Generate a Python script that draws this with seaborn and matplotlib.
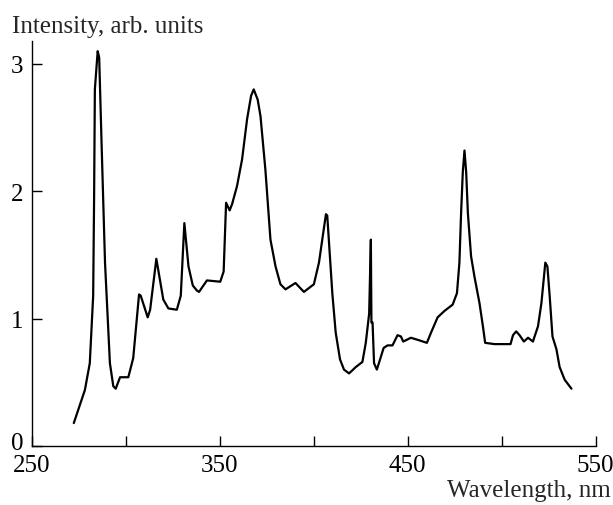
import matplotlib
matplotlib.use('Agg')
import matplotlib.pyplot as plt
from matplotlib.transforms import ScaledTranslation
import seaborn as sns

# spectrum
wavelength = [272.4, 278.3, 280.9, 282.7, 283.2, 283.6, 285.1, 285.9, 287.2, 289.0,
              291.6, 293.4, 294.7, 297.0, 301.4, 304.0, 307.1, 308.0, 311.7, 313.0,
              316.3, 320.0, 322.7, 327.2, 329.3, 331.2, 333.4, 335.7, 337.9, 339.0,
              343.2, 350.3, 352.1, 353.4, 355.3, 356.6, 359.2, 361.9, 364.6, 366.7,
              368.1, 370.2, 371.7, 374.3, 377.0, 379.7, 382.3, 385.0, 390.3, 394.8,
              400.1, 402.8, 406.5, 407.2, 409.9, 411.7, 414.0, 416.1, 418.8, 422.4,
              425.9, 427.7, 429.5, 430.4, 430.7, 431.3, 432.1, 433.6, 435.3, 437.2,
              439.3, 441.9, 444.6, 446.4, 447.6, 451.7, 456.1, 460.2, 462.4, 465.9,
              469.5, 473.9, 476.2, 477.5, 478.4, 479.3, 480.2, 481.1, 482.0, 483.7,
              485.5, 488.2, 490.0, 491.2, 496.2, 504.7, 506.0, 507.7, 509.5, 511.8,
              514.0, 516.6, 519.3, 521.1, 523.2, 524.3, 525.5, 527.0, 529.1, 530.8,
              533.5, 537.1]
intensity = [0.18, 0.44, 0.65, 1.18, 1.96, 2.80, 3.10, 3.05, 2.36, 1.44,
             0.65, 0.47, 0.45, 0.54, 0.54, 0.69, 1.19, 1.18, 1.01, 1.07,
             1.47, 1.15, 1.08, 1.07, 1.18, 1.75, 1.41, 1.26, 1.22, 1.21,
             1.30, 1.29, 1.37, 1.91, 1.85, 1.90, 2.04, 2.25, 2.57, 2.75,
             2.80, 2.72, 2.59, 2.17, 1.62, 1.41, 1.27, 1.23, 1.28, 1.21,
             1.27, 1.44, 1.82, 1.81, 1.20, 0.89, 0.68, 0.60, 0.57, 0.62,
             0.66, 0.81, 1.04, 1.62, 0.97, 0.97, 0.65, 0.60, 0.68, 0.77,
             0.79, 0.79, 0.87, 0.86, 0.82, 0.85, 0.83, 0.81, 0.89, 1.01,
             1.06, 1.11, 1.20, 1.44, 1.83, 2.15, 2.32, 2.15, 1.83, 1.49,
             1.33, 1.12, 0.94, 0.81, 0.80, 0.80, 0.87, 0.90, 0.87, 0.82,
             0.85, 0.82, 0.94, 1.12, 1.44, 1.41, 1.18, 0.86, 0.76, 0.62,
             0.52, 0.45]

xticks = [250, 300, 350, 400, 450, 500, 550]
xticklabels = ['250', '', '350', '', '450', '', '550']
yticks = [0, 1, 2, 3]

sns.set_style('ticks')
plt.rcParams['font.family'] = ['Liberation Serif', 'DejaVu Serif']

fig = plt.figure(figsize=(6.13, 5.06), dpi=100)
ax = fig.add_axes([0.0517, 0.1166, 0.9201, 0.8004])

sns.lineplot(x=wavelength, y=intensity, color='black', linewidth=1.6, ax=ax)

ax.set_xlim(250, 550)
ax.set_ylim(0, 3.18)
ax.set_xticks(xticks)
ax.set_xticklabels(xticklabels)
ax.set_yticks(yticks)
ax.set_xlabel('')
ax.set_ylabel('')
ax.tick_params(axis='both', direction='in', length=7, width=1, colors='black',
               labelsize=18)
ax.tick_params(axis='x', pad=6)
ax.tick_params(axis='y', pad=6)
sns.despine(ax=ax)
for s in ['left', 'bottom']:
    ax.spines[s].set_linewidth(1)
    ax.spines[s].set_color('black')

# lift the "0" a little so it clears the "250" below it
zero = ax.get_yticklabels()[0]
zero.set_transform(zero.get_transform() + ScaledTranslation(0, 4 / 72, fig.dpi_scale_trans))

fig.text(0.0196, 0.9348, 'Intensity, arb. units', fontsize=18, va='baseline', ha='left')
fig.text(0.9967, 0.018, 'Wavelength, nm', fontsize=18, va='baseline', ha='right')

fig.savefig('out.png', dpi=100)
